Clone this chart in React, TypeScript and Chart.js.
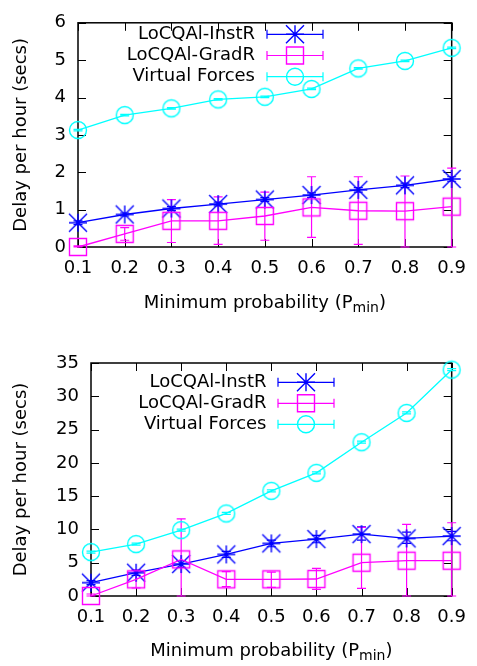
import React, { useEffect, useRef } from "react";
import { Chart, registerables } from "chart.js";

Chart.register(...registerables);

// ---------------- data ----------------
const categories = ["0.1", "0.2", "0.3", "0.4", "0.5", "0.6", "0.7", "0.8", "0.9"];
const seriesNames = ["LoCQAl-InstR", "LoCQAl-GradR", "Virtual Forces"];

// top chart
const topYTicks = [0, 1, 2, 3, 4, 5, 6];
const topInstR = [0.65, 0.87, 1.03, 1.15, 1.27, 1.39, 1.53, 1.65, 1.82];
const topInstRLow = [0.6, 0.83, 0.98, 1.1, 1.22, 1.33, 1.47, 1.59, 1.76];
const topInstRHigh = [0.7, 0.91, 1.08, 1.2, 1.32, 1.45, 1.59, 1.71, 1.88];
const topGradR = [0.0, 0.35, 0.7, 0.7, 0.83, 1.06, 0.97, 0.96, 1.08];
const topGradRLow = [0.0, 0.18, 0.12, 0.07, 0.18, 0.26, 0.07, 0.0, 0.0];
const topGradRHigh = [0.03, 0.52, 1.27, 1.34, 1.47, 1.88, 1.88, 1.9, 2.11];
const topVF = [3.13, 3.53, 3.71, 3.95, 4.02, 4.23, 4.78, 4.98, 5.33];
const topVFLow = [3.11, 3.51, 3.69, 3.93, 4.0, 4.21, 4.76, 4.96, 5.31];
const topVFHigh = [3.15, 3.55, 3.73, 3.97, 4.04, 4.25, 4.8, 5.0, 5.35];

// bottom chart
const botYTicks = [0, 5, 10, 15, 20, 25, 30, 35];
const botInstR = [2.0, 3.5, 4.8, 6.25, 7.9, 8.55, 9.3, 8.65, 9.0];
const botInstRLow = [1.7, 3.1, 4.3, 5.8, 7.4, 8.0, 8.4, 7.9, 8.3];
const botInstRHigh = [2.3, 3.9, 5.3, 6.7, 8.4, 9.1, 10.4, 9.6, 9.7];
const botGradR = [0.0, 2.5, 5.5, 2.5, 2.5, 2.55, 5.0, 5.3, 5.3];
const botGradRLow = [0.0, 1.2, 0.0, 1.4, 1.3, 1.0, 1.15, 0.0, 0.0];
const botGradRHigh = [0.3, 3.9, 11.6, 3.65, 3.6, 4.15, 10.3, 10.75, 11.0];
const botVF = [6.6, 7.8, 9.9, 12.4, 15.8, 18.5, 23.1, 27.5, 34.0];
const botVFLow = [6.45, 7.65, 9.75, 12.25, 15.65, 18.35, 22.95, 27.35, 33.85];
const botVFHigh = [6.75, 7.95, 10.05, 12.55, 15.95, 18.65, 23.25, 27.65, 34.15];

const xTitleMain = "Minimum probability (P";
const xTitleSub = "min";
const xTitleEnd = ")";
const yTitle = "Delay per hour (secs)";

// ---------------- styles ----------------
const COLORS = ["#0000ff", "#ff00ff", "#00ffff"];
const MARKERS = ["star", "square", "circle"];
const FONT = "DejaVu Sans";
const FS = 18;

type Layout = {
  height: number;
  left: number;
  right: number;
  top: number;
  bottom: number;
  legendTextRight: number;
  legendRows: number[];
  legendX1: number;
  legendX2: number;
  xTitleBaseline: number;
  yTitleX: number;
};

const TOP_LAYOUT: Layout = {
  height: 333,
  left: 78,
  right: 456,
  top: 15,
  bottom: 247,
  legendTextRight: 255,
  legendRows: [34.3, 55.5, 76.7],
  legendX1: 267,
  legendX2: 323,
  xTitleBaseline: 308,
  yTitleX: 21,
};

const BOT_LAYOUT: Layout = {
  height: 333,
  left: 91,
  right: 456,
  top: 30,
  bottom: 263,
  legendTextRight: 266.5,
  legendRows: [49.3, 70.3, 91.3],
  legendX1: 278,
  legendX2: 334,
  xTitleBaseline: 322.5,
  yTitleX: 21,
};

function drawMarker(ctx: CanvasRenderingContext2D, kind: string, x: number, y: number, color: string) {
  ctx.save();
  ctx.strokeStyle = color;
  ctx.lineWidth = 1.4;
  ctx.beginPath();
  if (kind === "star") {
    const r = 9;
    ctx.moveTo(x - r, y);
    ctx.lineTo(x + r, y);
    ctx.moveTo(x, y - r);
    ctx.lineTo(x, y + r);
    ctx.moveTo(x - r, y - r);
    ctx.lineTo(x + r, y + r);
    ctx.moveTo(x - r, y + r);
    ctx.lineTo(x + r, y - r);
  } else if (kind === "square") {
    const h = 8.5;
    ctx.rect(x - h, y - h, 2 * h, 2 * h);
  } else {
    ctx.arc(x, y, 8.5, 0, Math.PI * 2);
  }
  ctx.stroke();
  ctx.restore();
}

function markerImage(kind: string, color: string): HTMLCanvasElement {
  const c = document.createElement("canvas");
  c.width = 24;
  c.height = 24;
  const ctx = c.getContext("2d")!;
  drawMarker(ctx, kind, 12, 12, color);
  return c;
}

type Series = { values: number[]; low: number[]; high: number[] };

function makeConfig(layout: Layout, series: Series[], yTicks: number[]): any {
  const yMax = yTicks[yTicks.length - 1];

  const framePlugin = {
    id: "frame",
    beforeDatasetsDraw(chart: any) {
      const { ctx, chartArea: a, scales } = chart;
      ctx.save();
      ctx.strokeStyle = "#000";
      ctx.lineWidth = 1;
      // inward ticks
      ctx.beginPath();
      const tl = 8;
      categories.forEach((_, i) => {
        const px = Math.round(scales.x.getPixelForValue(i)) + 0.5;
        ctx.moveTo(px, a.bottom);
        ctx.lineTo(px, a.bottom - tl);
        ctx.moveTo(px, a.top);
        ctx.lineTo(px, a.top + tl);
      });
      yTicks.forEach((v) => {
        const py = Math.round(scales.y.getPixelForValue(v)) + 0.5;
        ctx.moveTo(a.left, py);
        ctx.lineTo(a.left + tl, py);
        ctx.moveTo(a.right, py);
        ctx.lineTo(a.right - tl, py);
      });
      ctx.stroke();
      ctx.lineWidth = 1.5;
      ctx.strokeRect(a.left, a.top, a.right - a.left, a.bottom - a.top);
      ctx.restore();

      // error bars
      ctx.save();
      ctx.lineWidth = 1.2;
      series.forEach((s, si) => {
        ctx.strokeStyle = COLORS[si];
        ctx.beginPath();
        s.values.forEach((_, i) => {
          const px = scales.x.getPixelForValue(i);
          const lo = scales.y.getPixelForValue(s.low[i]);
          const hi = scales.y.getPixelForValue(s.high[i]);
          ctx.moveTo(px, lo);
          ctx.lineTo(px, hi);
          ctx.moveTo(px - 4.5, lo);
          ctx.lineTo(px + 4.5, lo);
          ctx.moveTo(px - 4.5, hi);
          ctx.lineTo(px + 4.5, hi);
        });
        ctx.stroke();
      });
      ctx.restore();
    },
    afterDraw(chart: any) {
      const { ctx, chartArea: a } = chart;
      ctx.save();
      ctx.fillStyle = "#000";
      // legend
      ctx.font = `${FS}px "${FONT}"`;
      ctx.textAlign = "right";
      ctx.textBaseline = "middle";
      seriesNames.forEach((name, i) => {
        const y = layout.legendRows[i];
        ctx.fillText(name, layout.legendTextRight, y);
        ctx.strokeStyle = COLORS[i];
        ctx.lineWidth = 1.2;
        ctx.beginPath();
        ctx.moveTo(layout.legendX1, y);
        ctx.lineTo(layout.legendX2, y);
        ctx.moveTo(layout.legendX1, y - 4.5);
        ctx.lineTo(layout.legendX1, y + 4.5);
        ctx.moveTo(layout.legendX2, y - 4.5);
        ctx.lineTo(layout.legendX2, y + 4.5);
        ctx.stroke();
        drawMarker(ctx, MARKERS[i], (layout.legendX1 + layout.legendX2) / 2, y, COLORS[i]);
      });
      // x title
      const fontMain = `${FS}px "${FONT}"`;
      const fontSub = `14px "${FONT}"`;
      ctx.textBaseline = "alphabetic";
      ctx.textAlign = "left";
      ctx.font = fontMain;
      const w1 = ctx.measureText(xTitleMain).width;
      const w3 = ctx.measureText(xTitleEnd).width;
      ctx.font = fontSub;
      const w2 = ctx.measureText(xTitleSub).width;
      const total = w1 + w2 + w3;
      let x = (a.left + a.right) / 2 - total / 2;
      const yb = layout.xTitleBaseline;
      ctx.font = fontMain;
      ctx.fillText(xTitleMain, x, yb);
      x += w1;
      ctx.font = fontSub;
      ctx.fillText(xTitleSub, x, yb + 4);
      x += w2;
      ctx.font = fontMain;
      ctx.fillText(xTitleEnd, x, yb);
      // y title
      ctx.translate(layout.yTitleX, (a.top + a.bottom) / 2);
      ctx.rotate(-Math.PI / 2);
      ctx.textAlign = "center";
      ctx.textBaseline = "middle";
      ctx.font = fontMain;
      ctx.fillText(yTitle, 0, 0);
      ctx.restore();
    },
  };

  return {
    type: "line",
    data: {
      labels: categories,
      datasets: series.map((s, i) => ({
        label: seriesNames[i],
        data: s.values,
        borderColor: COLORS[i],
        backgroundColor: COLORS[i],
        borderWidth: 1.3,
        pointStyle: markerImage(MARKERS[i], COLORS[i]),
        pointRadius: 9,
        tension: 0,
        fill: false,
        clip: false,
        order: 3 - i,
      })),
    },
    options: {
      animation: false,
      responsive: false,
      maintainAspectRatio: false,
      devicePixelRatio: 1,
      layout: {
        padding: { top: layout.top, right: 477 - layout.right, left: 0, bottom: 0 },
      },
      plugins: { legend: { display: false }, tooltip: { enabled: false } },
      scales: {
        x: {
          type: "category",
          offset: false,
          grid: { display: false, drawTicks: false },
          border: { display: false },
          ticks: {
            color: "#000",
            font: { family: FONT, size: FS },
            padding: 11,
            maxRotation: 0,
            autoSkip: false,
          },
          afterFit: (s: any) => {
            s.height = layout.height - layout.bottom;
          },
        },
        y: {
          type: "linear",
          min: 0,
          max: yMax,
          grid: { display: false, drawTicks: false },
          border: { display: false },
          ticks: {
            color: "#000",
            font: { family: FONT, size: FS },
            padding: 12,
          },
          afterBuildTicks: (s: any) => {
            s.ticks = yTicks.map((v) => ({ value: v }));
          },
          afterFit: (s: any) => {
            s.width = layout.left;
          },
        },
      },
    },
    plugins: [framePlugin],
  };
}

function DelayChart({ layout, series, yTicks }: { layout: Layout; series: Series[]; yTicks: number[] }) {
  const ref = useRef<HTMLCanvasElement>(null);
  useEffect(() => {
    if (!ref.current) return;
    const chart = new Chart(ref.current, makeConfig(layout, series, yTicks));
    return () => chart.destroy();
  }, []);
  return (
    <canvas
      ref={ref}
      width={477}
      height={layout.height}
      style={{ display: "block", width: 477, height: layout.height }}
    />
  );
}

const topSeries: Series[] = [
  { values: topInstR, low: topInstRLow, high: topInstRHigh },
  { values: topGradR, low: topGradRLow, high: topGradRHigh },
  { values: topVF, low: topVFLow, high: topVFHigh },
];

const botSeries: Series[] = [
  { values: botInstR, low: botInstRLow, high: botInstRHigh },
  { values: botGradR, low: botGradRLow, high: botGradRHigh },
  { values: botVF, low: botVFLow, high: botVFHigh },
];

export default function App() {
  return (
    <div style={{ position: "absolute", left: 0, top: 0, width: 477, height: 666, background: "#fff" }}>
      <DelayChart layout={TOP_LAYOUT} series={topSeries} yTicks={topYTicks} />
      <DelayChart layout={BOT_LAYOUT} series={botSeries} yTicks={botYTicks} />
    </div>
  );
}
